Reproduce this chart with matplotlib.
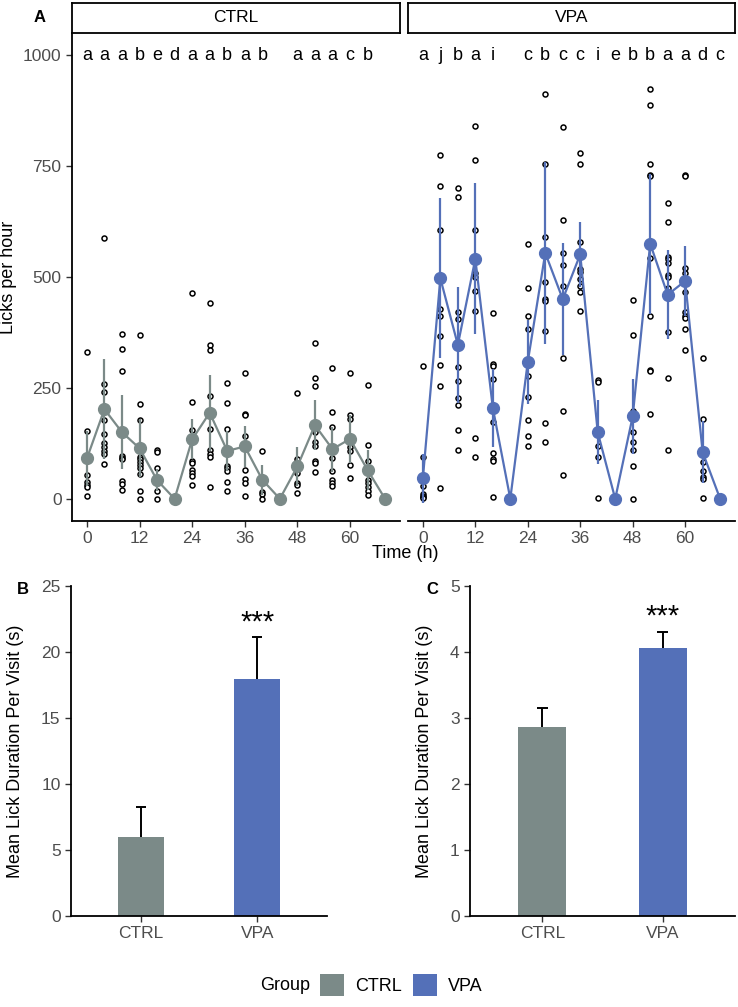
import matplotlib
matplotlib.use("Agg")
import matplotlib.pyplot as plt
import numpy as np
from matplotlib.patches import Patch

plt.rcParams['font.family'] = ['Liberation Sans', 'DejaVu Sans']

W, H = 738, 1007

# ---- panel A data (licks per hour, every 4 h) ----
hours = [0, 4, 8, 12, 16, 20, 24, 28, 32, 36, 40, 44, 48, 52, 56, 60, 64, 68]

ctrl_mean = [91, 202, 150, 114, 42, 0, 134, 194, 108, 118, 43, 0, 73, 166, 112, 135, 65, 0]
ctrl_sem = [61, 113, 83, 65, 25, 0, 45, 86, 45, 47, 34, 0, 43, 57, 51, 55, 46, 0]
vpa_mean = [46, 497, 347, 541, 205, 0, 309, 554, 450, 551, 150, 0, 186, 575, 460, 491, 105, 0]
vpa_sem = [55, 180, 130, 170, 88, 0, 95, 205, 126, 74, 72, 0, 84, 158, 100, 80, 70, 0]

ctrl_points = [
    [331, 152, 53, 38, 32, 27, 6],
    [588, 258, 241, 177, 146, 125, 116, 108, 100, 79],
    [371, 337, 289, 96, 91, 89, 41, 34, 21],
    [370, 213, 178, 95, 90, 84, 76, 70, 55, 18, 0],
    [111, 106, 69, 36, 17, 0],
    [0],
    [465, 219, 156, 86, 81, 66, 58, 51, 31],
    [441, 346, 336, 231, 157, 109, 102, 94, 27],
    [261, 215, 157, 75, 70, 62, 37, 18],
    [283, 191, 188, 142, 64, 45, 36, 7],
    [107, 36, 15, 11, 0],
    [0],
    [238, 90, 80, 58, 36, 31, 13],
    [352, 272, 255, 150, 129, 118, 86, 81, 61],
    [295, 196, 163, 91, 63, 43, 36, 28],
    [284, 190, 181, 126, 117, 107, 76, 47],
    [257, 121, 85, 43, 36, 27, 17, 8],
    [0],
]
vpa_points = [
    [299, 95, 30, 11, 7, 4, 2],
    [776, 705, 605, 428, 412, 368, 302, 254, 25],
    [701, 680, 422, 405, 298, 266, 228, 211, 154, 111],
    [841, 764, 605, 510, 499, 468, 424, 138, 95],
    [418, 305, 300, 270, 174, 103, 90, 86, 4],
    [0],
    [574, 476, 412, 383, 276, 230, 177, 141, 118],
    [912, 755, 591, 489, 450, 446, 379, 172, 127],
    [837, 629, 554, 526, 480, 317, 197, 54],
    [779, 755, 579, 519, 512, 495, 480, 467, 423],
    [268, 264, 120, 94, 2],
    [0],
    [449, 370, 199, 150, 128, 111, 74, 0],
    [923, 887, 755, 731, 728, 542, 413, 291, 289, 192],
    [666, 623, 546, 540, 531, 504, 500, 476, 375, 272, 111],
    [731, 728, 520, 510, 467, 422, 413, 407, 383, 336],
    [317, 179, 83, 62, 50, 44, 2],
    [0],
]

ctrl_letters = ['a', 'a', 'a', 'b', 'e', 'd', 'a', 'a', 'b', 'a', 'b', '', 'a', 'a', 'a', 'c', 'b', '']
vpa_letters = ['a', 'j', 'b', 'a', 'i', '', 'c', 'b', 'c', 'c', 'i', 'e', 'b', 'b', 'a', 'a', 'd', 'c']

# ---- panels B and C ----
groups = ['CTRL', 'VPA']
dur_b = [6.0, 17.95]
dur_b_err = [2.27, 3.15]
dur_c = [2.87, 4.06]
dur_c_err = [0.28, 0.24]

colors = {'CTRL': '#7b8a88', 'VPA': '#5470b8'}
tick_grey = '#4d4d4d'


def px(l, t, r, b):
    return [l / W, 1 - b / H, (r - l) / W, (b - t) / H]


def style_axes(ax):
    for s in ['top', 'right']:
        ax.spines[s].set_visible(False)
    for s in ['left', 'bottom']:
        ax.spines[s].set_linewidth(1.3)
    ax.tick_params(labelsize=12.5, colors='#333333', labelcolor=tick_grey, length=4, width=1)


fig = plt.figure(figsize=(W / 100, H / 100), dpi=100)

panels = [
    ('CTRL', ctrl_mean, ctrl_sem, ctrl_points, ctrl_letters, (72, 400)),
    ('VPA', vpa_mean, vpa_sem, vpa_points, vpa_letters, (408, 735)),
]
for name, mean, sem, pts, letters, (l, r) in panels:
    ax = fig.add_axes(px(l, 33, r, 521))
    sax = fig.add_axes(px(l, 3, r, 33))
    sax.set_xticks([])
    sax.set_yticks([])
    for s in sax.spines.values():
        s.set_linewidth(1.3)
    sax.text(0.5, 0.5, name, ha='center', va='center', fontsize=12.5, transform=sax.transAxes)

    col = colors[name]
    for h, vals in zip(hours, pts):
        ax.plot([h] * len(vals), vals, 'o', ms=3.6, mfc='white', mec='black', mew=1.1, zorder=2)
    ax.vlines(hours, np.array(mean) - np.array(sem), np.array(mean) + np.array(sem),
              color=col, lw=1.6, zorder=3)
    ax.plot(hours, mean, '-', color=col, lw=1.6, zorder=3)
    ax.plot(hours, mean, 'o', color=col, ms=8.5, zorder=4)
    for h, lab in zip(hours, letters):
        ax.text(h, 1000, lab, ha='center', va='center', fontsize=13)

    ax.set_xlim(-3.4, 71.4)
    ax.set_ylim(-50, 1050)
    ax.set_xticks([0, 12, 24, 36, 48, 60])
    ax.set_yticks([0, 250, 500, 750, 1000])
    style_axes(ax)
    if name == 'VPA':
        ax.spines['left'].set_visible(False)
        ax.tick_params(axis='y', left=False, labelleft=False)
    else:
        ax.set_ylabel('Licks per hour', fontsize=13, labelpad=4)

fig.text(405 / W, 1 - 553 / H, 'Time (h)', ha='center', va='center', fontsize=13)
fig.text(40 / W, 1 - 17 / H, 'A', ha='center', va='center', fontsize=12, fontweight='bold')

bar_panels = [
    (dur_b, dur_b_err, (71, 327), 25, [0, 5, 10, 15, 20, 25], 'B', 23, 22.2),
    (dur_c, dur_c_err, (470, 735), 5, [0, 1, 2, 3, 4, 5], 'C', 432, 4.54),
]
for vals, errs, (l, r), top, ticks, tag, tag_x, star_y in bar_panels:
    ax = fig.add_axes(px(l, 586, r, 916))
    x = np.arange(1, len(groups) + 1)
    tops = np.array(vals) + np.array(errs)
    ax.bar(x, vals, width=0.4, color=[colors[g] for g in groups], zorder=2)
    # upper half of the error bar only
    ax.vlines(x, vals, tops, color='black', lw=1.4, zorder=1)
    ax.hlines(tops, x - 0.045, x + 0.045, color='black', lw=1.4, zorder=1)
    ax.text(x[1], star_y, '***', ha='center', va='center', fontsize=21)
    ax.set_xlim(0.4, 2.6)
    ax.set_ylim(0, top)
    ax.set_xticks(x)
    ax.set_xticklabels(groups)
    ax.set_yticks(ticks)
    style_axes(ax)
    ax.set_ylabel('Mean Lick Duration Per Visit (s)', fontsize=13, labelpad=12)
    fig.text(tag_x / W, 1 - 589 / H, tag, ha='center', va='center', fontsize=12, fontweight='bold')

fig.text(310 / W, 1 - 985 / H, 'Group', ha='right', va='center', fontsize=13)
handles = [Patch(facecolor=colors[g], edgecolor='none', label=g) for g in groups]
fig.legend(handles=handles, ncol=2, frameon=False, fontsize=13,
           loc='center left', bbox_to_anchor=(320 / W, 1 - 985 / H),
           handlelength=1.35, handleheight=1.5, handletextpad=0.6, columnspacing=0.6,
           borderpad=0, borderaxespad=0)

fig.savefig('out.png', dpi=100)
